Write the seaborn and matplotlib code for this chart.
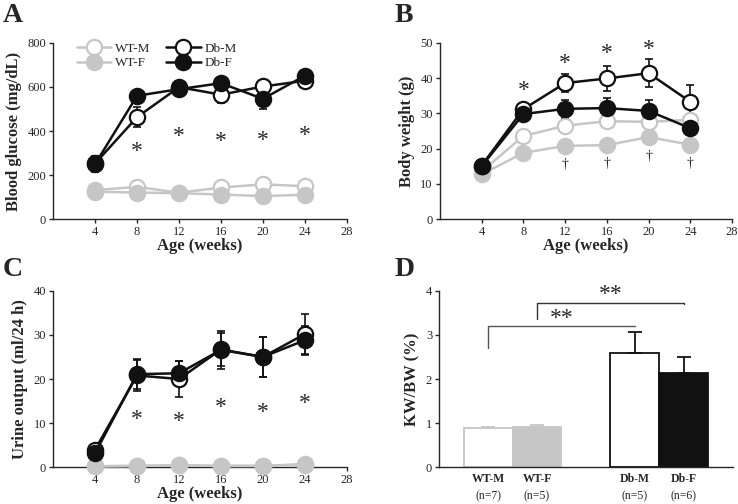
import matplotlib
matplotlib.use("Agg")
import matplotlib.pyplot as plt
import seaborn as sns
import pandas as pd

# ---- data ----
weeks = [4, 8, 12, 16, 20, 24]

glu_wtm = [132, 147, 120, 144, 158, 150]
glu_wtf = [125, 121, 118, 112, 105, 111]
glu_dbm = [253, 463, 599, 565, 602, 628]
glu_dbf = [250, 560, 590, 617, 546, 651]
glu_wtm_err = [10, 10, 8, 10, 15, 10]
glu_wtf_err = [8, 8, 8, 8, 8, 8]
glu_dbm_err = [35, 45, 20, 40, 25, 20]
glu_dbf_err = [35, 20, 15, 25, 45, 15]

bw_wtm = [13.5, 23.6, 26.5, 27.8, 27.6, 28.2]
bw_wtf = [12.7, 18.8, 20.8, 21.0, 23.3, 21.1]
bw_dbm = [15.2, 31.2, 38.6, 39.9, 41.4, 33.3]
bw_dbf = [15.0, 29.8, 31.3, 31.5, 30.7, 25.8]
bw_wtm_err = [0.5, 0.8, 0.8, 0.8, 0.8, 0.8]
bw_wtf_err = [0.5, 0.5, 0.5, 0.5, 0.8, 0.5]
bw_dbm_err = [1.0, 1.2, 2.5, 3.6, 4.0, 4.8]
bw_dbf_err = [1.0, 1.0, 2.5, 2.8, 3.0, 3.0]

uo_wtm = [0.2, 0.3, 0.4, 0.3, 0.3, 0.6]
uo_wtf = [0.2, 0.3, 0.4, 0.3, 0.3, 0.7]
uo_dbm = [4.0, 20.8, 20.0, 26.7, 25.0, 30.2]
uo_dbf = [3.2, 21.1, 21.3, 26.6, 25.0, 28.8]
uo_wt_err = [0.2, 0.2, 0.2, 0.2, 0.2, 0.3]
uo_dbm_err = [1.0, 3.6, 4.0, 3.8, 4.5, 4.5]
uo_dbf_err = [1.0, 3.4, 2.8, 4.3, 4.5, 3.3]

glu_star_y = [306, 375, 352, 357, 382]
bw_star_y = [36.6, 44.2, 47.0, 48.1]
bw_dagger_y = [15.6, 15.8, 17.7, 15.8]
uo_star_y = [10.9, 10.3, 13.6, 12.4, 14.5]

kw_groups = ["WT-M", "WT-F", "Db-M", "Db-F"]
kw_n = ["(n=7)", "(n=5)", "(n=5)", "(n=6)"]
kw_pos = [1, 2, 4, 5]
kw_vals = [0.88, 0.91, 2.59, 2.14]
kw_err = [0.04, 0.04, 0.48, 0.37]

GRAY = "#c6c6c6"
BLACK = "#111111"

sns.set_style("ticks")
plt.rcParams["font.family"] = ["Liberation Serif", "DejaVu Serif"]
plt.rcParams["axes.linewidth"] = 1.0

fig = plt.figure(figsize=(7.38, 5.04), dpi=100)
axA = fig.add_axes([0.072, 0.565, 0.398, 0.350])
axB = fig.add_axes([0.596, 0.565, 0.396, 0.350])
axC = fig.add_axes([0.072, 0.073, 0.398, 0.350])
axD = fig.add_axes([0.595, 0.073, 0.398, 0.350])

series_style = [
    ("WT-M", GRAY, "white"),
    ("WT-F", GRAY, GRAY),
    ("Db-M", BLACK, "white"),
    ("Db-F", BLACK, BLACK),
]


def time_panel(ax, ys, errs, ylim, yticks, ylabel):
    for (name, col, face), y, e in zip(series_style, ys, errs):
        ax.errorbar(weeks, y, yerr=e, fmt="none", ecolor=col, elinewidth=1.2,
                    capsize=3, capthick=1.2, zorder=2)
        sns.lineplot(x=weeks, y=y, ax=ax, color=col, linewidth=1.8, marker="o",
                     markersize=11, markerfacecolor=face, markeredgecolor=col,
                     markeredgewidth=1.6, label=name, legend=False, zorder=3)
    ax.set_xlim(0, 28)
    ax.set_xticks([4, 8, 12, 16, 20, 24, 28])
    ax.set_ylim(*ylim)
    ax.set_yticks(yticks)
    ax.set_xlabel("Age (weeks)", fontsize=12, fontweight="bold", labelpad=0)
    ax.set_ylabel(ylabel, fontsize=12, fontweight="bold", labelpad=4)
    ax.tick_params(labelsize=9, length=3, width=1, pad=2)
    sns.despine(ax=ax)


# A
time_panel(axA, [glu_wtm, glu_wtf, glu_dbm, glu_dbf],
           [glu_wtm_err, glu_wtf_err, glu_dbm_err, glu_dbf_err],
           (0, 800), [0, 200, 400, 600, 800], "Blood glucose (mg/dL)")
for x, y in zip(weeks[1:], glu_star_y):
    axA.text(x, y, "*", ha="center", va="center", fontsize=17)
axA.legend(ncol=2, loc="upper left", bbox_to_anchor=(0.04, 1.07), frameon=False,
           fontsize=9.5, handlelength=2.6, columnspacing=1.2, labelspacing=0.2,
           handletextpad=0.3)

# B
time_panel(axB, [bw_wtm, bw_wtf, bw_dbm, bw_dbf],
           [bw_wtm_err, bw_wtf_err, bw_dbm_err, bw_dbf_err],
           (0, 50), [0, 10, 20, 30, 40, 50], "Body weight (g)")
for x, y in zip(weeks[1:5], bw_star_y):
    axB.text(x, y, "*", ha="center", va="center", fontsize=17)
for x, y in zip(weeks[2:], bw_dagger_y):
    axB.text(x, y, "\u2020", ha="center", va="center", fontsize=10)

# C
time_panel(axC, [uo_wtm, uo_wtf, uo_dbm, uo_dbf],
           [uo_wt_err, uo_wt_err, uo_dbm_err, uo_dbf_err],
           (0, 40), [0, 10, 20, 30, 40], "Urine output (ml/24 h)")
for line in axC.lines:
    line.set_clip_on(False)
for x, y in zip(weeks[1:], uo_star_y):
    axC.text(x, y, "*", ha="center", va="center", fontsize=17)

# D
kw_df = pd.DataFrame({"pos": kw_pos, "val": kw_vals, "group": kw_groups})
sns.barplot(data=kw_df, x="pos", y="val", hue="group", native_scale=True,
            width=1.0, ax=axD, legend=False,
            palette=["white", GRAY, "white", BLACK], saturation=1)
edges = [GRAY, GRAY, BLACK, BLACK]
for patch, ec in zip(axD.patches, edges):
    patch.set_edgecolor(ec)
    patch.set_linewidth(1.3)
for x, v, e, ec in zip(kw_pos, kw_vals, kw_err, edges):
    axD.errorbar(x, v, yerr=[[0], [e]], fmt="none", ecolor=ec, elinewidth=1.3,
                 capsize=5, capthick=1.3)
axD.set_xlim(0, 6)
axD.set_ylim(0, 4)
axD.set_yticks([0, 1, 2, 3, 4])
axD.set_xticks([])
axD.set_xlabel("")
axD.set_ylabel("KW/BW (%)", fontsize=12, fontweight="bold", labelpad=4)
axD.tick_params(labelsize=9, length=3, width=1, pad=2)
sns.despine(ax=axD)
for x, g, n in zip(kw_pos, kw_groups, kw_n):
    axD.text(x, -0.035, g, transform=axD.get_xaxis_transform(), ha="center",
             va="top", fontsize=8.5, fontweight="bold")
    axD.text(x, -0.13, n, transform=axD.get_xaxis_transform(), ha="center",
             va="top", fontsize=8.5)
axD.plot([1, 1, 4], [2.71, 3.2, 3.2], color="#555555", linewidth=1.0)
axD.plot([2, 2, 5, 5], [3.37, 3.72, 3.72, 3.7], color="#333333", linewidth=1.0)
axD.text(2.5, 3.38, "**", ha="center", va="center", fontsize=17)
axD.text(3.5, 3.92, "**", ha="center", va="center", fontsize=17)

# panel letters
for lab, x, y in [("A", 0.004, 0.995), ("B", 0.535, 0.995),
                  ("C", 0.004, 0.49), ("D", 0.535, 0.49)]:
    fig.text(x, y, lab, ha="left", va="top", fontsize=20, fontweight="bold")

fig.savefig("out.png", dpi=100)
